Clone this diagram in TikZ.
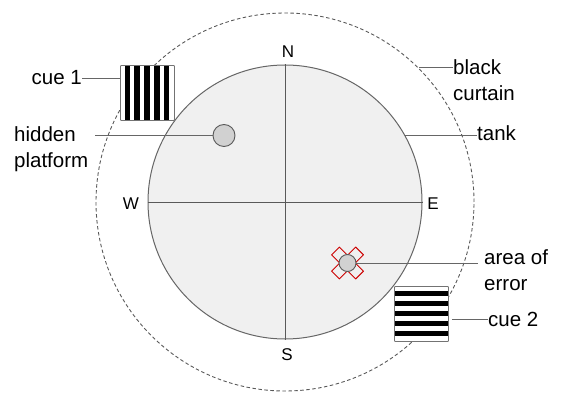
\documentclass[tikz,border=0pt]{standalone}
\usepackage{fontspec}
\setmainfont{Liberation Sans}
\usetikzlibrary{calc}
\begin{document}
\begin{tikzpicture}[x=1pt,y=-1pt,
  lab/.style={font=\fontsize{20.5}{26}\selectfont, inner sep=0pt, align=left, text=black},
  dir/.style={font=\fontsize{17}{20}\selectfont, inner sep=0pt, text=black},
  leader/.style={draw=black!60, line width=0.9pt},
  cuebox/.style={draw=black!55, line width=0.9pt, fill=white, minimum width=54pt, minimum height=55pt, inner sep=0pt, rounded corners=0.8pt}
]
\useasboundingbox (0,0) rectangle (562,395);
% curtain and tank
\node[circle, draw=black!65, dash pattern=on 3.5pt off 2.5pt, line width=0.9pt, minimum size=378pt, inner sep=0pt] (curtain) at (285,202) {};
\node[circle, draw=black!60, fill=black!6, line width=1pt, minimum size=274pt, inner sep=0pt] (tank) at (285,202) {};
\draw[draw=black!65, line width=0.9pt] (tank.north) -- (tank.south);
\draw[draw=black!65, line width=0.9pt] (tank.west) -- (tank.east);
% compass labels
\node[dir] (N) at (288,52) {N};
\node[dir] (S) at (287,355) {S};
\node[dir] (W) at (131,204) {W};
\node[dir] (E) at (433,204) {E};
% hidden platform
\node[circle, draw=black!65, fill=black!18, line width=0.9pt, minimum size=22pt, inner sep=0pt] (plat) at (224,135.5) {};
\coordinate (platend) at (95,135.5);
\draw[leader] (platend) -- (plat.west);
\node[lab, anchor=west] (platlab) at (14,149) {hidden\\platform};
% cue 1
\node[cuebox] (cue1) at (147.5,93) {};
\foreach \i in {1,3,5,7,9} {
  \fill[black] ($(cue1.south west)+(\i*54/11-0.3,-0.5)$) rectangle ($(cue1.north west)+(\i*54/11+54/11+0.3,0.5)$);
}
\node[lab, anchor=east] (cue1lab) at (82,78) {cue 1};
\draw[leader] (cue1lab.east) -- (cue1lab.east -| cue1.west);
% cue 2
\node[cuebox] (cue2) at (421.5,314) {};
\foreach \i in {1,3,5,7,9} {
  \fill[black] ($(cue2.north west)+(0.5,\i*55/11-0.3)$) rectangle ($(cue2.north east)+(-0.5,\i*55/11+55/11+0.3)$);
}
\node[lab, anchor=west] (cue2lab) at (488,319) {cue 2};
\draw[leader] (cue2lab.west -| cue2.east) ++(3,0) coordinate (c2s) -- (cue2lab.west);
% area of error
\coordinate (err) at (347.5,263);
\draw[draw=red!80!black, line width=1pt, line join=round, rotate around={45:(err)}]
  ($(err)+(-5.5,-17)$) -- ($(err)+(5.5,-17)$) -- ($(err)+(5.5,-5.5)$) -- ($(err)+(17,-5.5)$) --
  ($(err)+(17,5.5)$) -- ($(err)+(5.5,5.5)$) -- ($(err)+(5.5,17)$) -- ($(err)+(-5.5,17)$) --
  ($(err)+(-5.5,5.5)$) -- ($(err)+(-17,5.5)$) -- ($(err)+(-17,-5.5)$) -- ($(err)+(-5.5,-5.5)$) -- cycle;
\node[circle, draw=black!65, fill=black!18, line width=0.9pt, minimum size=17pt, inner sep=0pt] (errc) at (err) {};
\node[lab, anchor=west] (errlab) at (484,270) {area of\\error};
\coordinate (errend) at (478,263);
\draw[leader] (errc.east) -- (errend);
% black curtain
\node[lab, anchor=west] (curtlab) at (453,80) {black\\curtain};
\coordinate (curtpt) at (419,67);
\draw[leader] (curtpt) -- (curtpt -| curtlab.west);
% tank label
\node[lab, anchor=west] (tanklab) at (477,133) {tank};
\draw[leader] (tank.29) -- (tank.29 -| tanklab.west);
\end{tikzpicture}
\end{document}
